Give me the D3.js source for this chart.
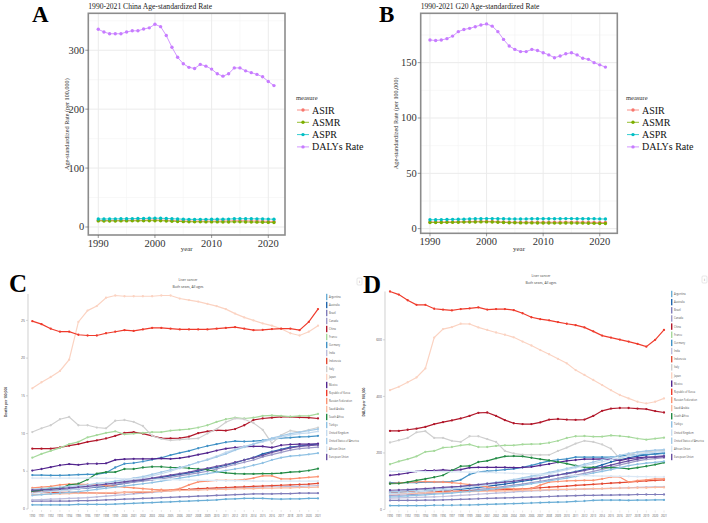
<!DOCTYPE html>
<html>
<head>
<meta charset="utf-8">
<script src="https://cdn.jsdelivr.net/npm/d3@7"></script>
<style>
  body { margin: 0; background: #fff; }
  svg { display: block; }
</style>
</head>
<body>
<svg id="fig" width="708" height="523"></svg>
<script>
const years = d3.range(1990, 2022);

// ---- panels A / B : age-standardized rates ----
const measures = ["ASIR", "ASMR", "ASPR", "DALYs Rate"];
const measureColors = ["#F8766D", "#7CAE00", "#00BFC4", "#C77CFF"];

const chinaAsir = [11.0,11.0,11.1,11.1,11.2,11.3,11.4,11.5,11.6,11.8,11.9,11.7,11.4,11.0,10.6,10.3,10.0,9.9,10.0,10.0,10.0,10.1,10.1,10.2,10.5,10.6,10.4,10.2,10.1,9.9,9.6,9.4];
const chinaAsmr = [10.3,10.2,10.2,10.2,10.3,10.3,10.4,10.4,10.5,10.6,10.7,10.5,10.2,9.8,9.4,9.1,8.8,8.7,8.7,8.6,8.6,8.6,8.5,8.5,8.7,8.7,8.5,8.3,8.2,8.0,7.8,7.6];
const chinaAspr = [13.5,13.6,13.7,13.8,13.9,14.0,14.2,14.3,14.5,14.8,15.0,14.8,14.5,14.0,13.6,13.3,13.0,12.9,13.0,13.0,13.1,13.2,13.3,13.4,13.9,14.1,14.0,13.9,13.8,13.7,13.4,13.2];
const chinaDalys = [335.6,331,328,328,328,331,333,333,336,338,344,340,325,305,288,277,271,269,276,273,268,260,256,260,270,270,265,262,259,255,247,240];

const g20Asir = [6.0,6.0,6.0,6.1,6.1,6.2,6.3,6.4,6.5,6.6,6.6,6.5,6.3,6.1,5.9,5.8,5.8,5.8,5.8,5.8,5.8,5.8,5.8,5.8,5.9,5.9,5.9,5.8,5.8,5.7,5.6,5.5];
const g20Asmr = [5.6,5.6,5.6,5.7,5.7,5.8,5.9,5.9,6.0,6.1,6.1,6.0,5.8,5.6,5.4,5.3,5.2,5.2,5.2,5.1,5.1,5.1,5.0,5.0,5.1,5.1,5.0,5.0,4.9,4.8,4.7,4.6];
const g20Aspr = [8.0,8.1,8.2,8.3,8.4,8.5,8.6,8.8,8.9,9.0,9.1,9.1,9.0,8.9,8.8,8.7,8.7,8.8,8.9,8.9,9.0,9.0,9.0,9.0,9.1,9.1,9.0,9.0,9.0,8.9,8.8,8.7];
const g20Dalys = [170.5,170,170.5,171.7,174,178,180,181,182.5,184,185,183,178,171,165,162,160,160,162,161,159,157,154.5,156,158,159,157,154,153,150,148,146];

const yearTicks = [1990, 2000, 2010, 2020];
const chinaYTicks = [0, 100, 200, 300];
const g20YTicks = [0, 50, 100, 150];

// ---- panels C / D : G20 countries ----
const countries = ["Argentina", "Australia", "Brazil", "Canada", "China", "France", "Germany", "India",
  "Indonesia", "Italy", "Japan", "Mexico", "Republic of Korea", "Russian Federation", "Saudi Arabia",
  "South Africa", "Türkiye", "United Kingdom", "United States of America", "African Union", "European Union"];
const countryColors = ["#6baed6", "#2166ac", "#807dba", "#9e9ac8", "#b2182b", "#a6d99c", "#4292c6", "#bcbddc",
  "#e34a33", "#cfcfcf", "#fbd3c2", "#54278f", "#ef3b2c", "#fc9272", "#fcbba1",
  "#238b45", "#8fc1e3", "#c6dbef", "#a6cbe8", "#dbe8f5", "#6a51a3"];

// deaths per 100,000
const deathsArgentina = [0.55,0.55,0.55,0.55,0.55,0.6,0.6,0.6,0.6,0.65,0.7,0.75,0.8,0.85,0.9,0.95,1.0,1.05,1.1,1.15,1.2,1.3,1.35,1.4,1.4,1.4,1.35,1.3,1.35,1.35,1.4,1.4];
const deathsAustralia = [2.3,2.35,2.4,2.5,2.6,2.7,2.8,2.9,3.0,3.2,3.4,3.6,3.8,4.0,4.2,4.4,4.6,4.8,5.0,5.3,5.5,5.8,6.1,6.5,6.8,7.3,7.6,7.9,8.2,8.35,8.5,8.6];
const deathsBrazil = [1.05,1.05,1.05,1.05,1.05,1.1,1.1,1.15,1.2,1.25,1.3,1.35,1.4,1.45,1.5,1.55,1.6,1.65,1.7,1.75,1.8,1.85,1.9,1.95,2.0,2.0,2.0,2.05,2.05,2.1,2.1,2.1];
const deathsCanada = [2.2,2.3,2.4,2.5,2.6,2.7,2.8,2.95,3.1,3.25,3.4,3.55,3.7,3.85,4.0,4.2,4.4,4.6,4.8,5.0,5.3,5.6,5.9,6.2,6.5,6.9,7.2,7.5,7.8,8.0,8.1,8.2];
const deathsChina = [8.0,8.0,8.0,8.15,8.4,8.6,8.9,9.1,9.35,9.7,10.1,10.2,10.0,9.7,9.4,9.35,9.4,9.6,10.05,10.3,10.45,10.4,10.6,11.1,11.8,12.0,12.1,12.2,12.2,12.15,12.1,12.0];
const deathsFrance = [6.8,7.3,7.7,8.1,8.6,8.9,9.5,9.8,10.1,10.3,9.9,10.0,10.1,10.2,10.2,10.4,10.5,10.6,10.8,11.1,11.55,11.9,12.1,12.0,12.1,12.35,12.4,12.35,12.25,12.35,12.35,12.6];
const deathsGermany = [4.5,4.5,4.45,4.45,4.5,4.55,4.6,4.6,4.8,5.5,6.0,6.1,6.3,6.55,6.8,7.15,7.45,7.7,8.05,8.35,8.6,8.85,9.0,8.95,9.0,9.1,9.25,9.4,9.45,9.55,9.6,9.7];
const deathsIndia = [1.2,1.25,1.3,1.35,1.4,1.45,1.5,1.6,1.7,1.8,1.9,2.0,2.1,2.2,2.3,2.4,2.5,2.55,2.6,2.65,2.7,2.75,2.8,2.85,2.9,2.9,2.95,2.95,3.0,3.0,3.05,3.1];
const deathsIndonesia = [2.2,2.2,2.2,2.2,2.2,2.15,2.15,2.1,2.1,2.15,2.2,2.2,2.25,2.3,2.4,2.5,2.55,2.6,2.7,2.75,2.8,2.85,2.9,2.95,3.0,3.05,3.1,3.15,3.2,3.25,3.3,3.4];
const deathsItaly = [10.2,10.7,11.1,11.9,12.2,11.1,11.1,10.8,10.7,11.7,11.8,11.55,11.0,9.7,9.3,9.1,9.2,9.3,9.35,10.0,10.6,11.5,12.0,11.9,11.4,10.5,8.7,9.8,10.4,10.2,10.5,10.8];
const deathsJapan = [16.0,16.8,17.5,18.3,19.8,24.8,26.3,26.9,28.0,28.3,28.2,28.2,28.2,28.2,28.3,28.3,27.9,27.7,27.5,27.2,26.9,26.5,25.9,25.4,25.0,24.6,24.3,23.9,23.3,23.0,23.5,24.3];
const deathsMexico = [5.1,5.3,5.55,5.8,5.95,5.85,6.0,6.0,6.05,6.5,6.6,6.65,6.65,6.65,6.7,6.65,6.75,6.95,7.2,7.45,7.75,8.0,8.15,8.25,8.3,8.3,8.15,8.45,8.55,8.6,8.6,8.65];
const deathsKorea = [24.9,24.5,23.9,23.5,23.5,23.1,23.0,23.0,23.3,23.5,23.7,23.6,23.8,24.0,24.0,23.9,23.8,23.8,23.8,23.8,23.9,24.0,24.1,23.9,23.7,23.75,23.85,23.9,23.9,23.7,24.8,26.5];
const deathsRussia = [2.8,2.9,3.0,3.2,3.3,3.3,3.25,3.2,3.1,3.0,2.9,2.8,2.7,2.6,2.55,2.5,2.7,3.2,3.6,3.7,3.8,3.8,3.8,3.9,4.1,4.4,4.4,4.0,4.0,4.1,4.2,4.3];
const deathsSaudi = [1.9,1.95,2.0,2.0,2.05,2.1,2.1,2.1,2.15,2.2,2.2,2.25,2.3,2.3,2.35,2.4,2.45,2.5,2.5,2.55,2.6,2.6,2.65,2.7,2.7,2.75,2.75,2.8,2.8,2.85,2.85,2.9];
const deathsSouthAfrica = [2.4,2.5,2.8,2.7,3.2,3.35,3.9,4.7,4.9,4.9,5.3,5.3,5.5,5.6,5.6,5.5,5.5,5.4,5.3,5.2,4.95,4.8,4.7,4.65,4.65,4.7,4.7,4.75,4.9,4.95,5.1,5.35];
const deathsTurkiye = [1.8,1.9,2.0,2.1,2.2,2.3,2.45,2.6,2.75,2.9,3.05,3.2,3.35,3.5,3.7,3.9,4.1,4.3,4.5,4.7,4.9,5.1,5.3,5.5,5.8,6.1,6.5,6.8,7.0,7.1,7.25,7.4];
const deathsUK = [2.1,2.2,2.3,2.4,2.5,2.7,2.9,3.1,3.3,3.5,3.7,3.9,4.1,4.4,4.7,5.0,5.4,5.8,6.2,6.6,7.0,7.5,7.9,8.3,8.6,8.9,9.2,9.5,9.8,10.0,10.1,10.3];
const deathsUSA = [2.6,2.7,2.8,2.9,3.0,3.1,3.2,3.4,3.5,3.7,3.9,4.1,4.3,4.6,4.9,5.2,5.5,5.8,6.2,6.5,6.9,7.3,7.8,8.2,8.6,9.0,9.4,9.7,10.0,10.2,10.4,10.6];
const deathsAfricanUnion = [4.1,4.1,4.1,4.1,4.1,4.1,4.1,4.1,4.05,4.05,4.0,4.0,4.0,3.95,3.9,3.9,3.85,3.85,3.8,3.8,3.8,3.75,3.75,3.75,3.7,3.7,3.7,3.7,3.7,3.7,3.7,3.7];
const deathsEU = [2.5,2.55,2.6,2.7,2.8,2.9,3.0,3.15,3.3,3.45,3.6,3.75,3.9,4.1,4.3,4.5,4.7,4.9,5.15,5.4,5.65,5.9,6.2,6.5,6.8,7.1,7.5,7.8,8.1,8.3,8.4,8.5];

// DALYs per 100,000
const dalysArgentina = [14,14,14,14,14,15,15,15,16,16,17,18,19,20,21,22,23,24,25,26,27,29,30,32,33,33,33,32,33,33,34,34];
const dalysAustralia = [58,59,60,62,64,66,68,70,72,75,78,82,86,90,95,100,105,110,116,122,128,134,141,148,158,168,176,183,189,193,197,200];
const dalysBrazil = [32,32,32,32,33,33,34,35,36,37,38,39,40,41,42,43,44,45,46,47,48,49,50,50,51,51,52,52,53,53,53,53];
const dalysCanada = [50,51,52,54,56,58,60,62,65,68,71,74,78,82,86,90,95,100,105,110,116,122,128,135,142,150,158,165,172,177,180,183];
const dalysChina = [278,278,282,286,292,302,309,315,322,331,342,343,331,316,305,302,302,308,318,320,318,317,318,331,349,357,359,359,357,355,348,343];
const dalysFrance = [160,170,178,188,204,207,219,221,227,230,221,221,225,227,227,230,231,232,236,243,253,259,260,258,258,262,260,257,251,247,251,254];
const dalysGermany = [95,95,95,95,97,97,98,99,105,124,133,136,138,141,144,149,156,164,172,176,179,185,185,185,185,185,189,192,194,195,196,198];
const dalysIndia = [40,41,42,43,44,45,46,48,50,52,54,56,58,60,62,64,66,67,68,69,70,71,72,73,74,75,76,77,78,79,80,80];
const dalysIndonesia = [62,62,62,62,63,63,64,64,65,66,67,68,69,70,71,73,75,77,79,81,83,85,87,89,91,93,95,97,99,101,103,105];
const dalysItaly = [237,245,253,273,277,253,253,243,239,259,259,249,239,207,198,194,193,193,193,207,219,233,243,239,230,215,180,192,204,204,207,209];
const dalysJapan = [422,434,450,467,499,608,638,645,657,656,644,635,626,618,609,594,580,564,549,533,517,493,476,458,440,422,405,393,381,375,381,393];
const dalysMexico = [121,124,129,135,138,138,140,138,141,148,149,149,149,149,148,149,151,156,161,167,172,175,178,178,179,178,173,180,183,185,185,187];
const dalysKorea = [771,760,740,724,724,710,707,704,709,711,715,707,709,709,705,694,680,673,669,663,657,652,644,630,615,608,601,594,586,576,600,635];
const dalysRussia = [92,94,96,98,99,98,97,95,92,88,84,80,77,75,73,72,74,86,97,99,101,102,103,103,108,115,115,97,102,105,108,108];
const dalysSaudi = [55,56,57,58,59,60,61,62,62,63,64,65,65,66,67,68,68,69,70,71,71,72,73,74,74,75,76,76,77,77,78,78];
const dalysSouthAfrica = [91,92,97,103,108,114,121,138,153,154,168,172,181,188,189,188,183,178,174,168,162,155,150,149,148,148,147,144,148,153,159,166];
const dalysTurkiye = [45,46,48,50,52,54,56,58,61,64,67,70,74,78,82,86,91,96,101,106,111,117,123,129,135,141,148,155,160,164,167,170];
const dalysUK = [56,58,60,62,64,66,69,72,75,79,83,87,92,97,102,108,114,120,127,134,141,148,155,162,169,176,183,190,195,200,203,205];
const dalysUSA = [62,64,66,68,70,72,75,78,81,84,88,92,96,101,106,112,118,124,131,138,145,152,160,168,176,184,192,198,203,207,210,212];
const dalysAfricanUnion = [135,135,135,135,134,134,134,133,133,132,132,131,130,129,128,127,126,125,124,123,122,121,120,119,118,118,117,117,116,116,115,115];
const dalysEU = [68,69,70,72,74,76,78,80,82,85,88,91,94,97,100,104,108,112,117,122,127,132,138,144,150,157,165,172,178,183,187,190];

const deathsTicks = [0, 5, 10, 15, 20, 25];
const dalysTicks = [0, 200, 400, 600];

const deathsSeries = [deathsArgentina, deathsAustralia, deathsBrazil, deathsCanada, deathsChina, deathsFrance,
  deathsGermany, deathsIndia, deathsIndonesia, deathsItaly, deathsJapan, deathsMexico, deathsKorea, deathsRussia,
  deathsSaudi, deathsSouthAfrica, deathsTurkiye, deathsUK, deathsUSA, deathsAfricanUnion, deathsEU];
const dalysSeries = [dalysArgentina, dalysAustralia, dalysBrazil, dalysCanada, dalysChina, dalysFrance,
  dalysGermany, dalysIndia, dalysIndonesia, dalysItaly, dalysJapan, dalysMexico, dalysKorea, dalysRussia,
  dalysSaudi, dalysSouthAfrica, dalysTurkiye, dalysUK, dalysUSA, dalysAfricanUnion, dalysEU];

const svg = d3.select("#fig");
const serif = "'Liberation Serif', 'Times New Roman', serif";
const sans = "'Open Sans', 'Liberation Sans', sans-serif";

// ggplot style panel (A, B)
function ggPanel(o) {
  var g = svg.append("g");
  var x = d3.scaleLinear().domain(o.xDomain).range([o.left, o.right]);
  var y = d3.scaleLinear().domain(o.yDomain).range([o.bottom, o.top]);

  // minor grid
  var yMinor = o.yTicks.map((t, i) => t + (o.yTicks[1] - o.yTicks[0]) / 2).filter(v => y(v) > o.top);
  g.selectAll(".ymin").data(yMinor).enter().append("line")
    .attr("x1", o.left).attr("x2", o.right).attr("y1", d => y(d)).attr("y2", d => y(d))
    .attr("stroke", "#f3f3f3").attr("stroke-width", 0.6);
  g.selectAll(".xmin").data([1995, 2005, 2015]).enter().append("line")
    .attr("y1", o.top).attr("y2", o.bottom).attr("x1", d => x(d)).attr("x2", d => x(d))
    .attr("stroke", "#f3f3f3").attr("stroke-width", 0.6);
  // major grid
  g.selectAll(".ymaj").data(o.yTicks).enter().append("line")
    .attr("x1", o.left).attr("x2", o.right).attr("y1", d => y(d)).attr("y2", d => y(d))
    .attr("stroke", "#ebebeb").attr("stroke-width", 1);
  g.selectAll(".xmaj").data(yearTicks).enter().append("line")
    .attr("y1", o.top).attr("y2", o.bottom).attr("x1", d => x(d)).attr("x2", d => x(d))
    .attr("stroke", "#ebebeb").attr("stroke-width", 1);

  var line = d3.line().x((d, i) => x(years[i])).y(d => y(d));
  o.series.forEach((s, k) => {
    g.append("path").attr("d", line(s)).attr("fill", "none")
      .attr("stroke", measureColors[k]).attr("stroke-width", 0.8);
    g.selectAll(".p" + k).data(s).enter().append("circle")
      .attr("cx", (d, i) => x(years[i])).attr("cy", d => y(d)).attr("r", 1.7)
      .attr("fill", measureColors[k]);
  });

  g.append("rect").attr("x", o.left).attr("y", o.top)
    .attr("width", o.right - o.left).attr("height", o.bottom - o.top)
    .attr("fill", "none").attr("stroke", "#8c8c8c").attr("stroke-width", 1.6);

  // ticks + labels
  g.selectAll(".yt").data(o.yTicks).enter().append("line")
    .attr("x1", o.left - 3).attr("x2", o.left).attr("y1", d => y(d)).attr("y2", d => y(d))
    .attr("stroke", "#555").attr("stroke-width", 0.6);
  g.selectAll(".yl").data(o.yTicks).enter().append("text")
    .attr("x", o.left - 4).attr("y", d => y(d) + 3.5).attr("text-anchor", "end")
    .style("font", "10.5px " + serif).attr("fill", "#333").text(d => d);
  g.selectAll(".xt").data(yearTicks).enter().append("line")
    .attr("y1", o.bottom).attr("y2", o.bottom + 3).attr("x1", d => x(d)).attr("x2", d => x(d))
    .attr("stroke", "#555").attr("stroke-width", 0.6);
  g.selectAll(".xl").data(yearTicks).enter().append("text")
    .attr("x", d => x(d)).attr("y", o.bottom + 12).attr("text-anchor", "middle")
    .style("font", "10.5px " + serif).attr("fill", "#333").text(d => d);

  g.append("text").attr("x", (o.left + o.right) / 2).attr("y", 251).attr("text-anchor", "middle")
    .style("font", "7px " + serif).attr("fill", "#333").text("year");
  g.append("text").attr("transform", "translate(" + o.yTitleX + "," + ((o.top + o.bottom) / 2) + ") rotate(-90)")
    .attr("text-anchor", "middle").style("font", "6.2px " + serif).attr("fill", "#333")
    .text("Age-standardized Rate (per 100,000)");
  g.append("text").attr("x", o.left).attr("y", 9)
    .style("font", "7.6px " + serif).attr("fill", "#222").text(o.title);

  // legend
  g.append("text").attr("x", o.legX).attr("y", 100)
    .style("font", "6.5px " + serif).attr("fill", "#333").text("measure");
  measures.forEach((m, k) => {
    var cy = 110 + k * 12.3;
    g.append("line").attr("x1", o.legX + 1).attr("x2", o.legX + 13).attr("y1", cy).attr("y2", cy)
      .attr("stroke", measureColors[k]).attr("stroke-width", 0.8);
    g.append("circle").attr("cx", o.legX + 7).attr("cy", cy).attr("r", 1.7).attr("fill", measureColors[k]);
    g.append("text").attr("x", o.legX + 16).attr("y", cy + 3.5)
      .style("font", "10px " + serif).attr("fill", "#111").text(m);
  });

  svg.append("text").attr("x", o.letterX).attr("y", 22)
    .style("font", "bold 23px " + serif).attr("fill", "#000").text(o.letter);
}

ggPanel({
  letter: "A", letterX: 32, title: "1990-2021 China Age-standardized Rate",
  left: 88.3, right: 285, top: 13.3, bottom: 235,
  xDomain: [1988.24, 2022.95], yDomain: [-13.6, 362.7], yTicks: chinaYTicks,
  series: [chinaAsir, chinaAsmr, chinaAspr, chinaDalys], yTitleX: 69, legX: 296
});
ggPanel({
  letter: "B", letterX: 379, title: "1990-2021 G20 Age-standardized Rate",
  left: 420.7, right: 617.3, top: 13.3, bottom: 233.3,
  xDomain: [1988.36, 2023.1], yDomain: [-4.2, 194.6], yTicks: g20YTicks,
  series: [g20Asir, g20Asmr, g20Aspr, g20Dalys], yTitleX: 398, legX: 626
});

// GBD compare style panel (C, D)
function gbdPanel(o) {
  var g = svg.append("g");
  var x = d3.scaleLinear().domain([1990, 2021]).range([o.x0, o.x1]);
  var y = d3.scaleLinear().domain([0, o.yMax]).range([o.y0, o.yTop]);

  g.append("text").attr("x", o.titleX).attr("y", o.titleY).attr("text-anchor", "middle")
    .style("font", "3.4px " + sans).attr("fill", "#444").text("Liver cancer");
  g.append("text").attr("x", o.titleX).attr("y", o.titleY + 7).attr("text-anchor", "middle")
    .style("font", "3.4px " + sans).attr("fill", "#444").text("Both sexes, All ages");

  g.append("line").attr("x1", o.axisX).attr("x2", o.axisX).attr("y1", o.yTop).attr("y2", o.y0)
    .attr("stroke", "#bbb").attr("stroke-width", 0.7);
  g.selectAll(".yt").data(o.ticks).enter().append("line")
    .attr("x1", o.axisX - 2).attr("x2", o.axisX).attr("y1", d => y(d)).attr("y2", d => y(d))
    .attr("stroke", "#bbb").attr("stroke-width", 0.6);
  g.selectAll(".yl").data(o.ticks).enter().append("text")
    .attr("x", o.axisX - 3).attr("y", d => y(d) + 1.2).attr("text-anchor", "end")
    .style("font", "3.4px " + sans).attr("fill", "#555").text(d => d);
  g.selectAll(".xt").data(years).enter().append("line")
    .attr("x1", d => x(d)).attr("x2", d => x(d)).attr("y1", o.y0 + 1).attr("y2", o.y0 + 3)
    .attr("stroke", "#ccc").attr("stroke-width", 0.5);
  g.selectAll(".xl").data(years).enter().append("text")
    .attr("x", d => x(d)).attr("y", o.y0 + 7.5).attr("text-anchor", "middle")
    .style("font", "2.6px " + sans).attr("fill", "#555").text(d => d);
  g.append("text").attr("transform", "translate(" + o.yTitleX + "," + 402 + ") rotate(-90)")
    .attr("text-anchor", "middle").style("font", "bold 3.2px " + sans).attr("fill", "#444").text(o.yTitle);

  var line = d3.line().x((d, i) => x(years[i])).y(d => y(d));
  o.series.forEach((s, k) => {
    g.append("path").attr("d", line(s)).attr("fill", "none")
      .attr("stroke", countryColors[k]).attr("stroke-width", 1.2);
    g.selectAll(".p" + k).data(s).enter().append("circle")
      .attr("cx", (d, i) => x(years[i])).attr("cy", d => y(d)).attr("r", 1.15)
      .attr("fill", countryColors[k]);
  });

  countries.forEach((c, k) => {
    var cy = o.legY0 + k * o.legStep;
    g.append("rect").attr("x", o.legX).attr("y", cy - 3.2).attr("width", 1.4).attr("height", 6.4)
      .attr("fill", countryColors[k]);
    g.append("text").attr("x", o.legX + 3).attr("y", cy + 1)
      .style("font", "2.6px " + sans).attr("fill", "#555").text(c);
  });

  svg.append("text").attr("x", o.letterX).attr("y", o.letterY)
    .style("font", "bold 25px " + serif).attr("fill", "#000").text(o.letter);
}

gbdPanel({
  letter: "C", letterX: 9, letterY: 292, titleX: 188, titleY: 281,
  x0: 32.3, x1: 318, y0: 509, yTop: 294, yMax: 28.5, axisX: 28, ticks: deathsTicks,
  yTitle: "Deaths per 100,000", yTitleX: 7, series: deathsSeries,
  legX: 326, legY0: 297, legStep: 8
});
gbdPanel({
  letter: "D", letterX: 363, letterY: 293, titleX: 541, titleY: 277,
  x0: 390, x1: 664, y0: 509.5, yTop: 291.5, yMax: 771, axisX: 385, ticks: dalysTicks,
  yTitle: "DALYs per 100,000", yTitleX: 365, series: dalysSeries,
  legX: 671, legY0: 294, legStep: 8.15
});

// small info buttons seen in panel D corners
[[357, 278], [702, 276]].forEach(p => {
  svg.append("rect").attr("x", p[0]).attr("y", p[1]).attr("width", 5).attr("height", 7).attr("rx", 1)
    .attr("fill", "#fff").attr("stroke", "#ccc").attr("stroke-width", 0.5);
  svg.append("text").attr("x", p[0] + 2.5).attr("y", p[1] + 5.2).attr("text-anchor", "middle")
    .style("font", "4px " + sans).attr("fill", "#777").text("i");
});
</script>
</body>
</html>
